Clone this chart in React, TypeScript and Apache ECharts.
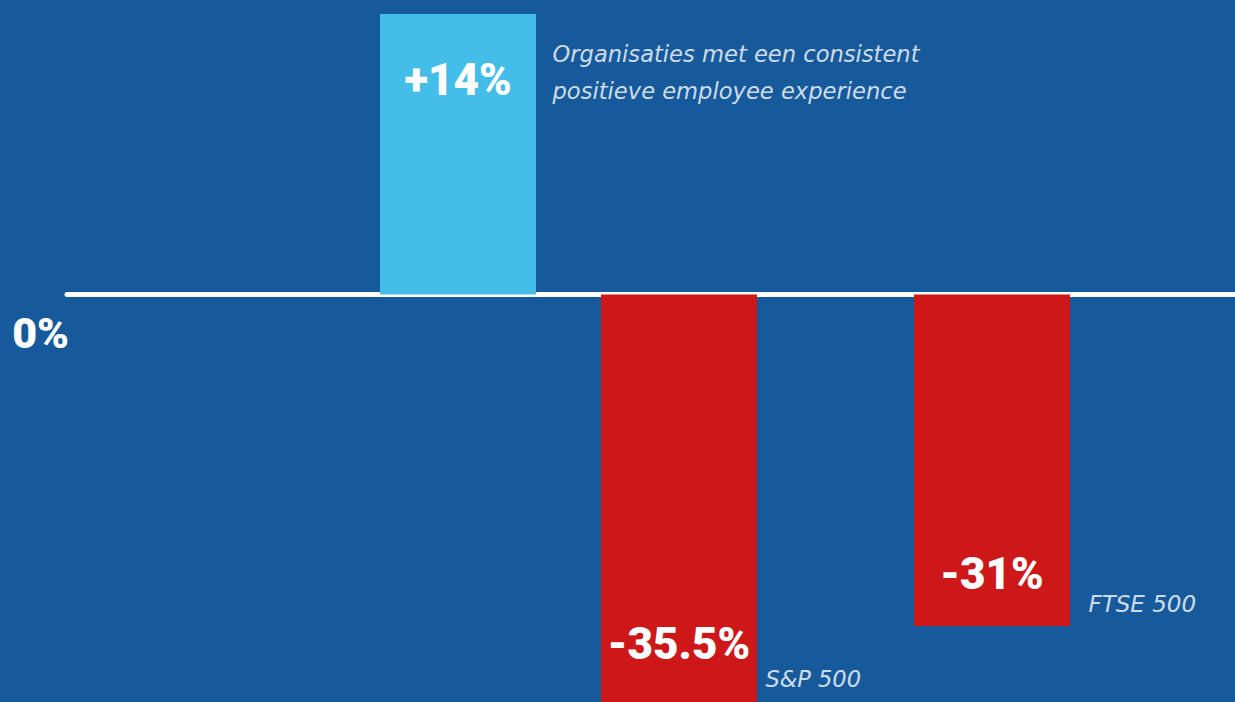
import React, { useEffect, useRef } from "react";
import * as echarts from "echarts";

// Data
const categories = [
  "Organisaties met een consistent\npositieve employee experience",
  "S&P 500",
  "FTSE 500",
];
const valueLabels = ["+14%", "-35.5%", "-31%"];
// Bar lengths as drawn in the picture (the original is not to scale)
const barHeights = [14, -20.33, -16.54];
const yTickValues = [0];

// Layout / style constants
const SLOT_INDEX = [0, 12, 29];
const SLOT_COUNT = 30;
const Y_MIN = -20.33;
const Y_MAX = 14;
const BG = "#175a9c";
const BAR_COLORS = ["#45bde9", "#cd1719", "#cd1719"];
const VALUE_LABEL_Y = [66, 349, 279];
const NAME_LABEL_OFFSET: [number, number][] = [
  [95, 59],
  [87, -23],
  [97, -22],
];
const NAME_FONT_SIZE = [22.6, 22.5, 23];

export default function App() {
  const ref = useRef<HTMLDivElement>(null);
  useEffect(() => {
    if (!ref.current) return;
    const chart = echarts.init(ref.current, undefined, { renderer: "svg" });

    const xData: string[] = new Array(SLOT_COUNT).fill("");
    const barData: any[] = new Array(SLOT_COUNT).fill("-");
    const nameData: any[] = new Array(SLOT_COUNT).fill("-");
    categories.forEach((c, i) => {
      const s = SLOT_INDEX[i];
      xData[s] = c;
      barData[s] = {
        value: barHeights[i],
        itemStyle: { color: BAR_COLORS[i] },
        label: {
          show: true,
          formatter: valueLabels[i],
          position: ["50%", VALUE_LABEL_Y[i]],
          align: "center",
          verticalAlign: "middle",
          color: "#ffffff",
          fontFamily: "Roboto",
          fontWeight: 900,
          fontSize: 44,
        },
      };
      nameData[s] = {
        value: barHeights[i],
        label: {
          show: true,
          formatter: c,
          position: NAME_LABEL_OFFSET[i],
          align: "left",
          verticalAlign: "middle",
          color: "#ffffff",
          fontFamily: "DejaVu Sans",
          fontStyle: "italic",
          fontWeight: "normal",
          fontSize: NAME_FONT_SIZE[i],
          lineHeight: 37,
        },
      };
    });

    chart.setOption({
      animation: false,
      backgroundColor: BG,
      grid: [
        { left: 67, right: 0, top: 14, bottom: 0, containLabel: false },
        { left: 448.8, width: 552.4, top: 14, bottom: 0, containLabel: false },
      ],
      xAxis: [
        {
          type: "category",
          gridIndex: 0,
          data: [""],
          axisLine: { show: true, onZero: true, lineStyle: { color: "#ffffff", width: 5 } },
          axisTick: { show: false },
          axisLabel: { show: false },
          splitLine: { show: false },
        },
        {
          type: "category",
          gridIndex: 1,
          data: xData,
          axisLine: { show: false },
          axisTick: { show: false },
          axisLabel: { show: false },
          splitLine: { show: false },
        },
      ],
      yAxis: [
        {
          type: "value",
          gridIndex: 0,
          min: Y_MIN,
          max: Y_MAX,
          axisLine: { show: false },
          axisTick: { show: false },
          splitLine: { show: false },
          axisLabel: {
            show: true,
            customValues: yTickValues,
            formatter: (v: number) => `${v}%`,
            color: "#ffffff",
            fontFamily: "Roboto",
            fontWeight: 900,
            fontSize: 43,
            margin: -2,
            verticalAlign: "top",
            padding: [17, 0, 0, 0],
          },
        },
        {
          type: "value",
          gridIndex: 1,
          min: Y_MIN,
          max: Y_MAX,
          axisLine: { show: false },
          axisTick: { show: false },
          splitLine: { show: false },
          axisLabel: { show: false },
        },
      ],
      series: [
        {
          type: "bar",
          xAxisIndex: 1,
          yAxisIndex: 1,
          data: barData,
          barWidth: 156,
          clip: false,
          z: 3,
        },
        {
          type: "scatter",
          xAxisIndex: 1,
          yAxisIndex: 1,
          data: nameData,
          symbol: "circle",
          symbolSize: 1,
          clip: false,
          itemStyle: { color: "rgba(0,0,0,0)" },
          silent: true,
          z: 4,
        },
      ],
    });
    return () => chart.dispose();
  }, []);
  return (
    <div
      ref={ref}
      style={{ position: "fixed", left: 0, top: 0, width: 1235, height: 702 }}
    />
  );
}
